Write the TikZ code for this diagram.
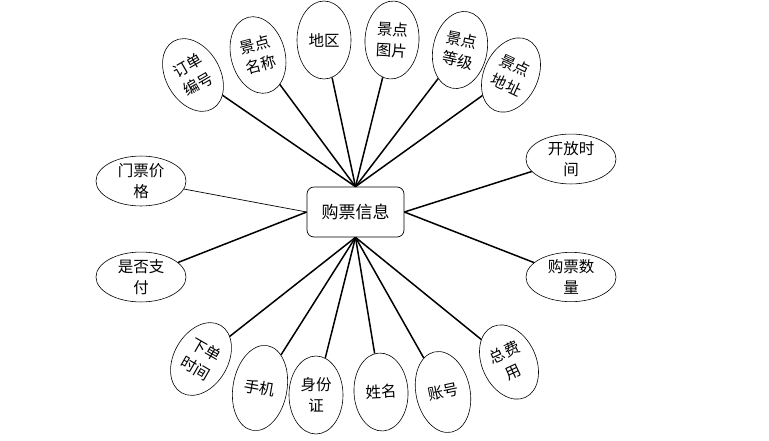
\documentclass[tikz,border=0pt]{standalone}
\usepackage{fontspec}
\setmainfont{Noto Sans CJK SC}
\usetikzlibrary{shapes.geometric}

\begin{document}
\begin{tikzpicture}[
  x=1pt, y=-1pt,
  entity/.style={draw, rounded corners=7pt, minimum width=97pt, minimum height=50pt,
    line width=0.7pt, font=\fontsize{17}{20}\selectfont},
  attr/.style={draw, ellipse, inner sep=0pt, align=center, line width=0.6pt,
    font=\fontsize{15.5}{21}\selectfont},
  tall/.style={attr, minimum width=54pt, minimum height=78pt},
  wide/.style={attr, minimum width=90pt, minimum height=49pt},
  link/.style={line width=1.5pt},
  thinlink/.style={line width=0.7pt}
]
\useasboundingbox (0,0) rectangle (769,440);

\node[entity] (ticket) at (355.5,212) {购票信息};

% top fan
\node[tall, rotate=30] (orderno) at (193,75) {订单\\编号};
\node[tall, rotate=15] (spotname) at (258,55) {景点\\名称};
\node[tall] (area) at (324,40) {地区};
\node[tall, rotate=-3] (spotpic) at (392,40) {景点\\图片};
\node[tall, rotate=-12] (spotlevel) at (460,50) {景点\\等级};
\node[tall, rotate=-25] (spotaddr) at (511,75) {景点\\地址};

% sides
\node[wide] (price) at (141,181) {门票价\\格};
\node[wide] (paid) at (141,277) {是否支\\付};
\node[wide] (opentime) at (571,159) {开放时\\间};
\node[wide] (amount) at (571,277) {购票数\\量};

% bottom fan
\node[tall, rotate=-30] (ordertime) at (201,359) {下单\\时间};
\node[tall, rotate=-10, minimum height=86pt] (phone) at (260,388) {手机};
\node[tall] (idcard) at (316,395) {身份\\证};
\node[tall, rotate=3] (name) at (381,392) {姓名};
\node[tall, rotate=12, minimum height=82pt] (account) at (443,392) {账号};
\node[tall, rotate=25] (total) at (509,362) {总费\\用};

\foreach \n in {orderno,spotname,area,spotpic,spotlevel,spotaddr}
  \draw[link] (\n) -- (ticket.north);
\foreach \n in {ordertime,phone,idcard,name,account,total}
  \draw[link] (\n) -- (ticket.south);
\draw[thinlink] (price) -- (ticket.west);
\draw[link] (paid) -- (ticket.west);
\draw[link] (opentime) -- (ticket.east);
\draw[link] (amount) -- (ticket.east);
\end{tikzpicture}
\end{document}
